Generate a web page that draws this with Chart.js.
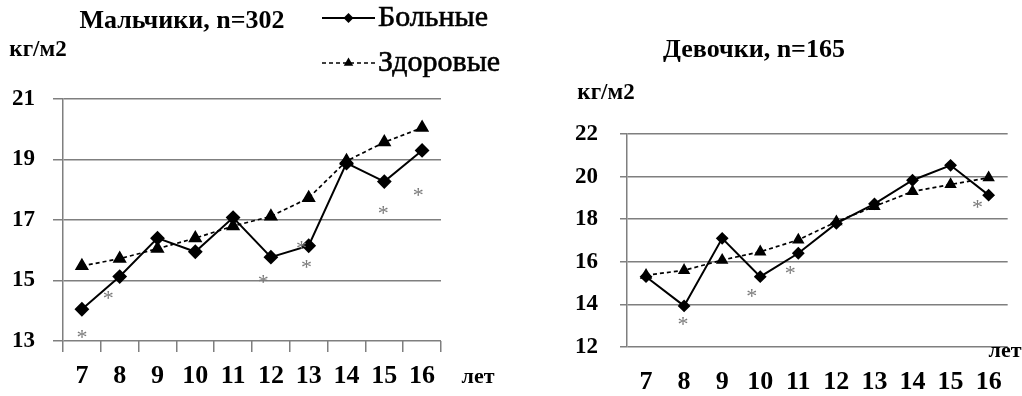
<!DOCTYPE html>
<html>
<head>
<meta charset="utf-8">
<script src="https://cdn.jsdelivr.net/npm/chart.js@4.4.1/dist/chart.umd.min.js"></script>
<style>
  body { margin: 0; background: #fff; }
  #wrap { position: relative; width: 1022px; height: 396px; }
  .box { position: absolute; top: 0; height: 396px; }
  #boys-box { left: 0; width: 540px; }
  #girls-box { left: 540px; width: 482px; }
</style>
</head>
<body>
<div id="wrap">
  <div class="box" id="boys-box"><canvas id="boys-chart"></canvas></div>
  <div class="box" id="girls-box"><canvas id="girls-chart"></canvas></div>
</div>
<script>
var ages = ['7', '8', '9', '10', '11', '12', '13', '14', '15', '16'];

// мальчики
var boysSick    = [14.05, 15.13, 16.4, 15.95, 17.08, 15.77, 16.15, 18.88, 18.27, 19.3];
var boysHealthy = [15.48, 15.72, 16.05, 16.4, 16.8, 17.12, 17.73, 18.95, 19.57, 20.05];
var boysTicks   = [13, 15, 17, 19, 21];
// звездочки (позиция по категории, значение)
var boysStarX = [0, 0.7, 4.8, 5.94, 5.81, 7.97, 8.9];
var boysStarY = [13.31, 14.58, 15.13, 15.62, 16.23, 17.39, 17.99];

// девочки
var girlsSick    = [15.3, 13.93, 17.1, 15.3, 16.4, 17.8, 18.72, 19.83, 20.53, 19.13];
var girlsHealthy = [15.37, 15.6, 16.08, 16.47, 17.03, 17.88, 18.6, 19.3, 19.63, 19.95];
var girlsTicks   = [12, 14, 16, 18, 20, 22];
var girlsStarX = [0.97, 2.78, 3.79, 8.71];
var girlsStarY = [13.31, 14.64, 15.73, 18.8];

var serif = '"Liberation Serif", "Times New Roman", serif';
var gridGray = '#7f7f7f';

function makeDatasets(sick, healthy, r) {
  return [{
    label: 'Больные',
    data: sick,
    borderColor: '#000',
    backgroundColor: '#000',
    borderWidth: 2,
    pointStyle: 'rectRot',
    pointRadius: r,
    tension: 0
  }, {
    label: 'Здоровые',
    data: healthy,
    borderColor: '#000',
    backgroundColor: '#000',
    borderWidth: 1.7,
    borderDash: [4, 3],
    pointStyle: 'triangle',
    pointRadius: r + 0.5,
    tension: 0
  }];
}

function extrasPlugin(texts, starX, starY, legend) {
  return {
    id: 'extras',
    afterDatasetsDraw: function(chart) {
      var ctx = chart.ctx, xs = chart.scales.x, ys = chart.scales.y;
      ctx.save();
      ctx.fillStyle = '#7a7a7a';
      ctx.font = '22px ' + serif;
      ctx.textAlign = 'center';
      ctx.textBaseline = 'alphabetic';
      for (var i = 0; i < starX.length; i++) {
        ctx.fillText('*', xs.getPixelForValue(starX[i]), ys.getPixelForValue(starY[i]) + 12);
      }
      ctx.restore();
    },
    afterDraw: function(chart) {
      var ctx = chart.ctx;
      ctx.save();
      ctx.fillStyle = '#000';
      ctx.textBaseline = 'middle';
      texts.forEach(function(t) {
        ctx.font = t.font;
        ctx.textAlign = t.align || 'center';
        ctx.fillText(t.text, t.x, t.y);
      });
      if (legend) {
        chart.data.datasets.forEach(function(ds, i) {
          var y = legend.y + i * legend.gap;
          ctx.strokeStyle = '#000';
          ctx.lineWidth = ds.borderWidth;
          ctx.setLineDash(ds.borderDash || []);
          ctx.beginPath();
          ctx.moveTo(legend.x, y);
          ctx.lineTo(legend.x + legend.w, y);
          ctx.stroke();
          ctx.setLineDash([]);
          ctx.fillStyle = '#000';
          Chart.helpers.drawPoint(ctx, { pointStyle: ds.pointStyle, radius: ds.pointRadius - 1, rotation: 0 },
            legend.x + legend.w / 2, y);
          ctx.font = '30px ' + serif;
          ctx.textAlign = 'left';
          ctx.lineWidth = 0.6;
          ctx.fillText(ds.label, legend.x + legend.w + 3, y);
          ctx.strokeText(ds.label, legend.x + legend.w + 3, y);
        });
      }
      ctx.restore();
    }
  };
}

function makeOptions(cfg) {
  return {
    responsive: true,
    maintainAspectRatio: false,
    animation: false,
    layout: { padding: { top: cfg.top, right: cfg.right, left: 0, bottom: 0 } },
    plugins: { legend: { display: false }, tooltip: { enabled: false } },
    scales: {
      x: {
        type: 'category',
        offset: true,
        afterFit: function(s) { s.height = cfg.xHeight; },
        grid: {
          display: cfg.xTicks,
          offset: true,
          drawOnChartArea: false,
          drawTicks: cfg.xTicks,
          tickLength: 11,
          color: gridGray,
          lineWidth: 1.5
        },
        border: { display: false },
        ticks: {
          color: '#000',
          padding: cfg.xPad,
          maxRotation: 0,
          autoSkip: false,
          font: { family: serif, size: 26, weight: 'bold' }
        }
      },
      y: {
        min: cfg.ticks[0],
        max: cfg.ticks[cfg.ticks.length - 1],
        afterFit: function(s) { s.width = cfg.yWidth; },
        afterBuildTicks: function(s) {
          s.ticks = cfg.ticks.map(function(v) { return { value: v }; });
        },
        grid: { color: gridGray, lineWidth: 1.5, tickLength: cfg.yTick },
        border: { display: true, color: gridGray, width: 1.5 },
        ticks: {
          color: '#000',
          padding: cfg.yPad,
          font: { family: serif, size: 23, weight: 'bold' }
        }
      }
    }
  };
}

new Chart(document.getElementById('boys-chart'), {
  type: 'line',
  data: { labels: ages, datasets: makeDatasets(boysSick, boysHealthy, 6) },
  options: makeOptions({ top: 99, right: 99, xHeight: 55, xTicks: true, xPad: 9,
    yWidth: 63, yTick: 10, yPad: 18, ticks: boysTicks }),
  plugins: [extrasPlugin([
    { text: 'Мальчики, n=302', x: 182, y: 21, font: 'bold 26px ' + serif },
    { text: 'кг/м2', x: 38, y: 50, font: 'bold 23px ' + serif },
    { text: 'лет', x: 478, y: 377, font: 'bold 22px ' + serif }
  ], boysStarX, boysStarY, { x: 322, y: 18, w: 53, gap: 45 })]
});

new Chart(document.getElementById('girls-chart'), {
  type: 'line',
  data: { labels: ages, datasets: makeDatasets(girlsSick, girlsHealthy, 5) },
  options: makeOptions({ top: 134, right: 0, xHeight: 49, xTicks: false, xPad: 20,
    yWidth: 87, yTick: 7, yPad: 22, ticks: girlsTicks }),
  plugins: [extrasPlugin([
    { text: 'Девочки, n=165', x: 214, y: 50, font: 'bold 26px ' + serif },
    { text: 'кг/м2', x: 66, y: 93, font: 'bold 23px ' + serif },
    { text: 'лет', x: 465, y: 351, font: 'bold 22px ' + serif }
  ], girlsStarX, girlsStarY, null)]
});
</script>
</body>
</html>
